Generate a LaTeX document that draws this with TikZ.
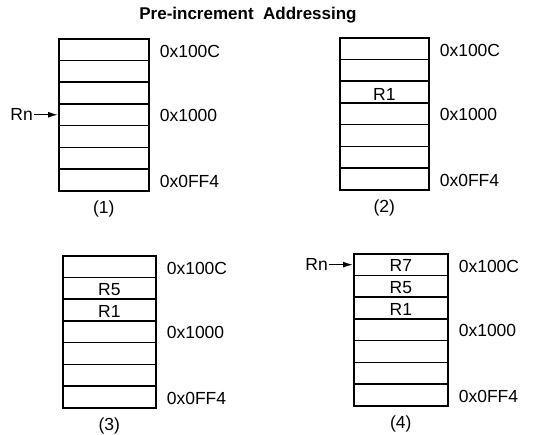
\documentclass[tikz,border=0pt]{standalone}
\usepackage{fontspec}
\setmainfont{Liberation Sans}
\usetikzlibrary{arrows.meta,positioning}
\tikzset{
  mem/cell/.style={
    draw=black,
    line width=1.6pt,
    minimum height=21.7pt,
    inner sep=0pt,
    anchor=north west
  },
  mem/text/.style={font=\fontsize{17.5}{19}\selectfont, inner sep=1pt},
  mem/addr/.style={mem/text, anchor=west},
  mem/caption/.style={mem/text, inner sep=0pt},
  mem/title/.style={font=\fontsize{17}{19}\selectfont\bfseries},
  mem/arrow/.style={-{Latex[length=10pt,width=6pt]}, line width=1.4pt}
}
\begin{document}
\begin{tikzpicture}[x=1pt,y=-1pt]
  \useasboundingbox (0,0) rectangle (543,434);
  \node[mem/title] (title) at (248,15) {Pre-increment\ \ Addressing};
  % four memory stacks of seven words
  \foreach \px/\py/\pw/\p in {58/38/90/1, 339/37/89/2, 62/255/93/3, 353/253/94/4} {
    \foreach \i in {1,...,7}
      \node[mem/cell,minimum width=\pw pt] (c\p\i) at ({\px},{\py+(\i-1)*21.7}) {};
    \node[mem/addr] (a\p1) at ([xshift=9pt,yshift=-2pt]c\p1.east) {0x100C};
    \node[mem/addr] (a\p4) at ([xshift=9pt,yshift=-1pt]c\p4.east) {0x1000};
    \node[mem/addr] (a\p7) at ([xshift=9pt,yshift=-2pt]c\p7.east) {0x0FF4};
    \node[mem/caption] (n\p) at ([yshift=-17.5pt]c\p7.south) {(\p)};
  }
  % stored registers
  \node[mem/text] (r2a) at ([yshift=-2pt]c23) {R1};
  \node[mem/text] (r3a) at ([yshift=-1pt]c32) {R5};
  \node[mem/text] (r3b) at ([yshift=-1pt]c33) {R1};
  \node[mem/text] (r4a) at ([yshift=-1pt]c41) {R7};
  \node[mem/text] (r4b) at ([yshift=-1pt]c42) {R5};
  \node[mem/text] (r4c) at ([yshift=-1pt]c43) {R1};
  % base register pointers
  \node[mem/text,left=24pt of c14.west] (rn1) {Rn};
  \node[mem/text,left=24pt of c41.west] (rn4) {Rn};
  \draw[mem/arrow] (rn1) -- (c14.west);
  \draw[mem/arrow] (rn4) -- (c41.west);
\end{tikzpicture}
\end{document}
